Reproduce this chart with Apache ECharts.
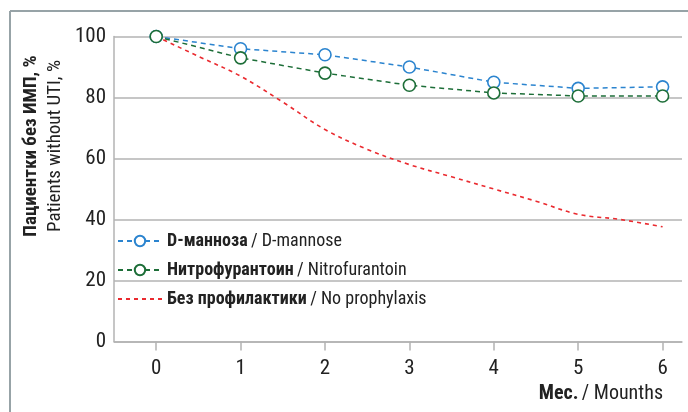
<!DOCTYPE html>
<html>
<head>
<meta charset="utf-8">
<script src="https://cdn.jsdelivr.net/npm/echarts@6/dist/echarts.min.js"></script>
<style>
  html, body { margin: 0; padding: 0; background: #fff; }
  #main { width: 688px; height: 412px; }
</style>
</head>
<body>
<div id="main"></div>
<script>
// месяцы наблюдения
var months = [0, 1, 2, 3, 4, 5, 6];
var dMannose = [100, 96, 94, 90, 85, 83, 83.5];
var nitrofurantoin = [100, 93, 88, 84, 81.5, 80.5, 80.5];
// кривая без профилактики снята по полумесяцам
var monthsFine = [0, 0.5, 1, 1.5, 2, 2.5, 3, 3.5, 4, 4.5, 5, 5.5, 6];
var noProphylaxis = [100, 93.5, 87, 78.5, 69.5, 63, 58, 54, 50, 46, 41.7, 40, 37.6];
var namesRu = ['D-манноза', 'Нитрофурантоин', 'Без профилактики'];
var namesEn = ['D-mannose', 'Nitrofurantoin', 'No prophylaxis'];

var FONT = "'Roboto Condensed', 'DejaVu Sans Condensed', sans-serif";
var blue = '#2b84cf', green = '#1d6e38', red = '#ea2a2f';

function pairs(xs, ys) {
  return xs.map(function (x, i) { return [x, ys[i]]; });
}

var myChart = echarts.init(document.getElementById('main'));

const option = {
  animation: false,
  grid: { left: 114, right: 6, top: 36.5, bottom: 70.5 },
  xAxis: {
    type: 'value',
    min: -0.5,
    max: 6.23,
    axisLine: { lineStyle: { color: '#b3b3b3', width: 1.5 } },
    axisTick: { show: true, length: 9, customValues: months, lineStyle: { color: '#b3b3b3', width: 1.5 } },
    axisLabel: { customValues: months, color: '#222', fontFamily: FONT, fontSize: 21, margin: 17 },
    splitLine: { show: false }
  },
  yAxis: {
    type: 'value',
    min: 0,
    max: 100,
    interval: 20,
    axisLine: { show: true, onZero: false, lineStyle: { color: '#b3b3b3', width: 1.5 } },
    axisTick: { show: false },
    axisLabel: { color: '#222', fontFamily: FONT, fontSize: 21, margin: 8 },
    splitLine: { lineStyle: { color: '#b3b3b3', width: 1.5 } }
  },
  legend: {
    orient: 'vertical',
    left: 112,
    top: 227,
    itemWidth: 44,
    itemHeight: 13,
    itemGap: 11,
    data: [
      { name: namesRu[0] },
      { name: namesRu[1] },
      { name: namesRu[2], itemStyle: { opacity: 0 } }
    ],
    formatter: function (name) {
      var i = namesRu.indexOf(name);
      return '{b|' + name + '} {r|/ ' + namesEn[i] + '}';
    },
    textStyle: {
      rich: {
        b: { fontFamily: FONT, fontWeight: 'bold', fontSize: 18, color: '#222' },
        r: { fontFamily: FONT, fontSize: 18, color: '#222' }
      }
    }
  },
  series: [
    {
      name: namesRu[2],
      type: 'line',
      data: pairs(monthsFine, noProphylaxis),
      smooth: 0.35,
      showSymbol: false,
      symbol: 'none',
      lineStyle: { color: red, width: 1.6, type: [4, 4] },
      itemStyle: { color: red },
      z: 2
    },
    {
      name: namesRu[0],
      type: 'line',
      data: pairs(months, dMannose),
      symbol: 'circle',
      symbolSize: 12,
      lineStyle: { color: blue, width: 1.5, type: [5, 4] },
      itemStyle: { color: '#fff', borderColor: blue, borderWidth: 1.6 },
      z: 3
    },
    {
      name: namesRu[1],
      type: 'line',
      data: pairs(months, nitrofurantoin),
      symbol: 'circle',
      symbolSize: 12,
      lineStyle: { color: green, width: 1.5, type: [5, 4] },
      itemStyle: { color: '#fff', borderColor: green, borderWidth: 1.6 },
      z: 4
    }
  ],
  graphic: [
    // рамка
    { type: 'line', shape: { x1: 10, y1: 11, x2: 688, y2: 11 }, style: { stroke: '#97a3a7', lineWidth: 2 } },
    { type: 'line', shape: { x1: 10, y1: 11, x2: 10, y2: 412 }, style: { stroke: '#97a3a7', lineWidth: 2 } },
    {
      type: 'text', x: 31, y: 146, rotation: Math.PI / 2,
      style: { text: 'Пациентки без ИМП, %', font: 'bold 19px ' + FONT, fill: '#222', align: 'center', verticalAlign: 'middle' }
    },
    {
      type: 'text', x: 55, y: 146, rotation: Math.PI / 2,
      style: { text: 'Patients without UTI, %', font: '19px ' + FONT, fill: '#222', align: 'center', verticalAlign: 'middle' }
    },
    {
      type: 'text', right: 25, top: 384,
      style: {
        text: '{b|Мес.} {r|/ Mounths}',
        rich: {
          b: { fontFamily: FONT, fontWeight: 'bold', fontSize: 20, fill: '#222' },
          r: { fontFamily: FONT, fontSize: 20, fill: '#222' }
        }
      }
    }
  ]
};

myChart.setOption(option);
</script>
</body>
</html>
